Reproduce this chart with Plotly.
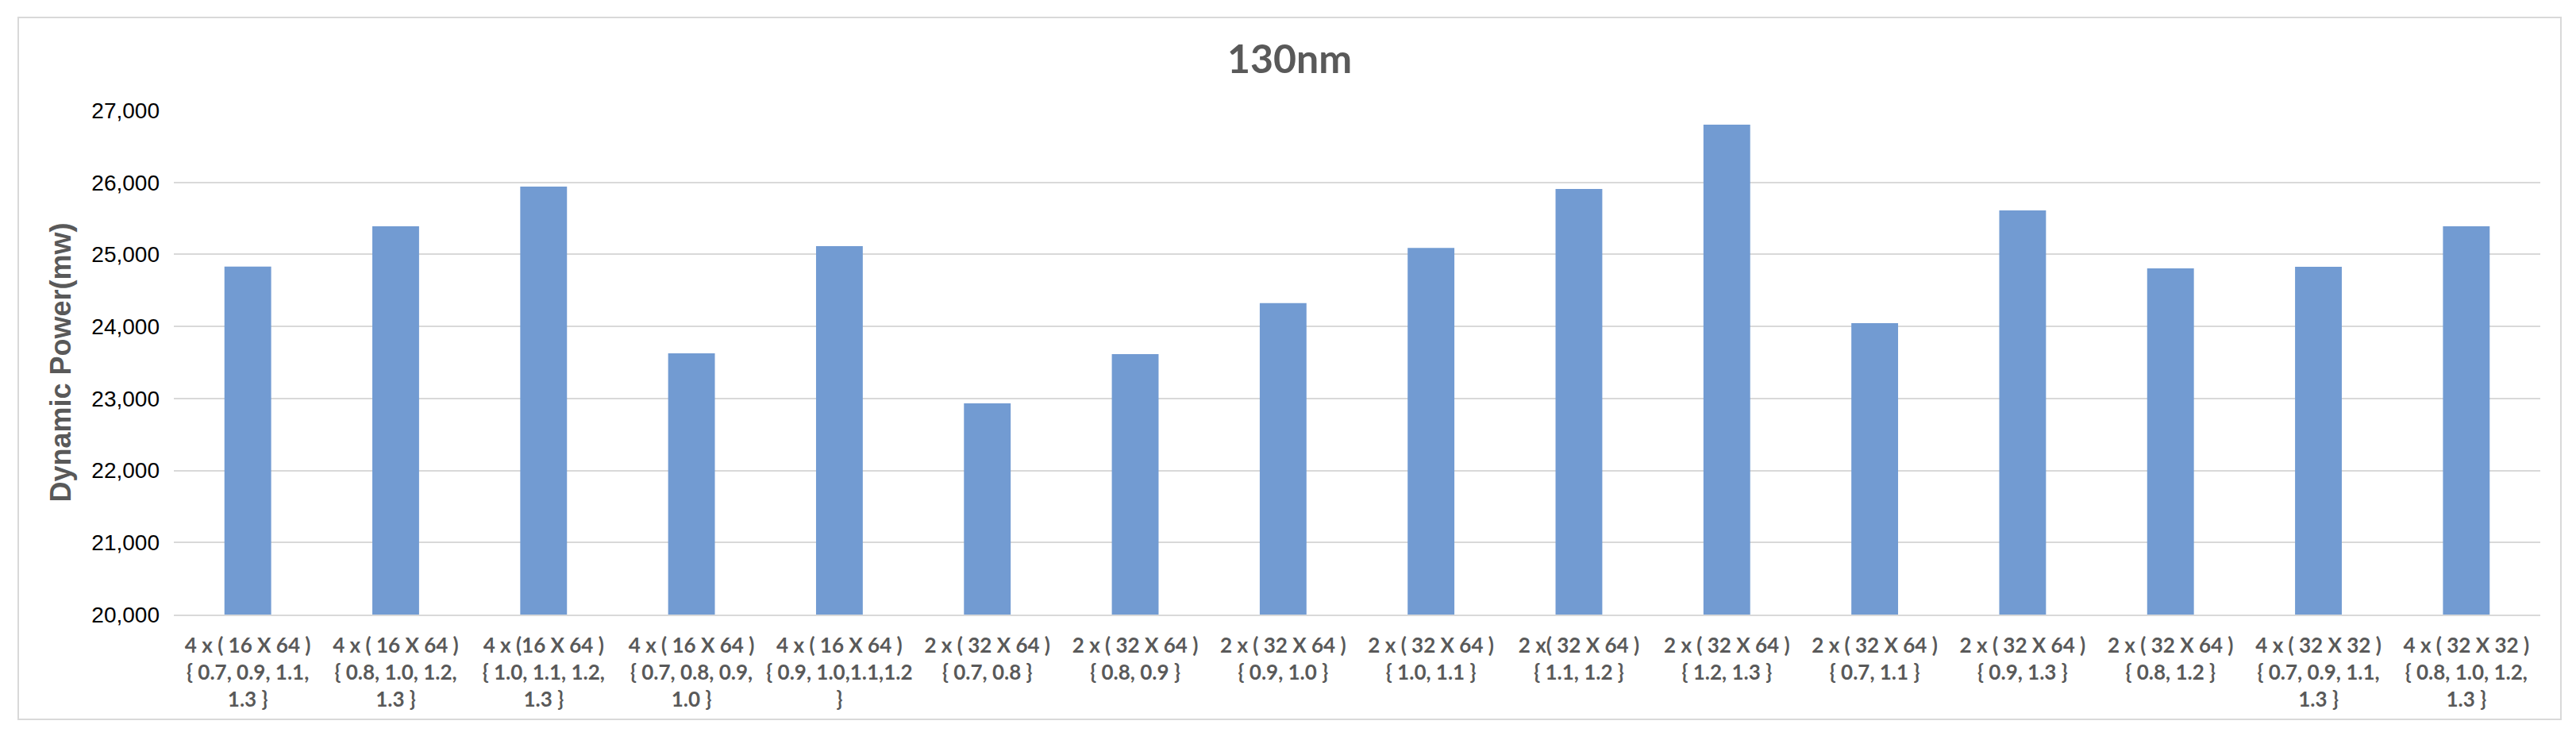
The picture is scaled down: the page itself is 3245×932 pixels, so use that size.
import plotly.graph_objects as go

# ---- data ----
tick_labels = [
    "4 x ( 16 X 64 )<br>{ 0.7, 0.9, 1.1,<br>1.3 }",
    "4 x ( 16 X 64 )<br>{ 0.8, 1.0, 1.2,<br>1.3 }",
    "4 x (16 X 64 )<br>{ 1.0, 1.1, 1.2,<br>1.3 }",
    "4 x ( 16 X 64 )<br>{ 0.7, 0.8, 0.9,<br>1.0 }",
    "4 x ( 16 X 64 )<br>{ 0.9, 1.0,1.1,1.2<br>}",
    "2 x ( 32 X 64 )<br>{ 0.7, 0.8 }",
    "2 x ( 32 X 64 )<br>{ 0.8, 0.9 }",
    "2 x ( 32 X 64 )<br>{ 0.9, 1.0 }",
    "2 x ( 32 X 64 )<br>{ 1.0, 1.1 }",
    "2 x( 32 X 64 )<br>{ 1.1, 1.2 }",
    "2 x ( 32 X 64 )<br>{ 1.2, 1.3 }",
    "2 x ( 32 X 64 )<br>{ 0.7, 1.1 }",
    "2 x ( 32 X 64 )<br>{ 0.9, 1.3 }",
    "2 x ( 32 X 64 )<br>{ 0.8, 1.2 }",
    "4 x ( 32 X 32 )<br>{ 0.7, 0.9, 1.1,<br>1.3 }",
    "4 x ( 32 X 32 )<br>{ 0.8, 1.0, 1.2,<br>1.3 }",
]
dynamic_power = [24830, 25391, 25942, 23627, 25115, 22932, 23616, 24325,
                 25090, 25909, 26802, 24046, 25611, 24806, 24829, 25391]
y_ticks = [20000, 21000, 22000, 23000, 24000, 25000, 26000, 27000]

title_text = "130nm"
y_title = "Dynamic Power(mw)"

# ---- layout constants (pixels) ----
W, H = 3245, 932
PL, PR, PT, PB = 219, 3200, 139, 774
pw, ph = PR - PL, PB - PT

def px_x(x):
    return (x - PL) / pw

def px_y(y):
    return (PB - y) / ph

cats = list(range(len(tick_labels)))

fig = go.Figure()
fig.add_trace(go.Bar(
    x=cats,
    y=dynamic_power,
    marker=dict(color="#729BD2", line=dict(width=0)),
    hoverinfo="x+y",
))

fig.update_layout(
    width=W, height=H,
    margin=dict(l=PL, r=W - PR, t=PT, b=H - PB, pad=0),
    paper_bgcolor="white",
    plot_bgcolor="white",
    showlegend=False,
    bargap=0.684,
    title=dict(
        text=title_text,
        x=(23 + 3226) / 2 / W, xanchor="center",
        y=1 - 74 / H, yanchor="middle", yref="container",
        font=dict(family="Lato", size=50, color="#595959", weight="bold"),
    ),
    xaxis=dict(
        tickmode="array",
        tickvals=cats,
        ticktext=tick_labels,
        range=[-0.5, len(cats) - 0.5],
        showgrid=False,
        showline=True, linecolor="#d9d9d9", linewidth=2,
        ticks="",
        ticklabelstandoff=15,
        tickfont=dict(family="Lato", size=26, color="#595959", weight="bold"),
        automargin=False,
        fixedrange=True,
    ),
    yaxis=dict(
        range=[20000, 27000],
        tickmode="array",
        tickvals=y_ticks,
        tickformat=",",
        showgrid=True, gridcolor="#d9d9d9", gridwidth=2,
        zeroline=False,
        showline=False,
        ticks="",
        ticklabelstandoff=17,
        tickfont=dict(family="Liberation Sans", size=28, color="#000000"),
        title=dict(
            text=y_title,
            standoff=14,
            font=dict(family="Liberation Sans", size=36, color="#595959", weight="bold"),
        ),
        automargin=False,
        fixedrange=True,
    ),
    shapes=[
        dict(type="rect", xref="paper", yref="paper",
             x0=px_x(23), x1=px_x(3226), y0=px_y(906), y1=px_y(22),
             line=dict(color="#d9d9d9", width=2), fillcolor="rgba(0,0,0,0)",
             layer="below"),
    ],
)

fig.write_html(
    "out.html",
    config={"displayModeBar": False},
    post_script="document.body.style.margin='0';document.body.style.overflow='hidden';",
)
